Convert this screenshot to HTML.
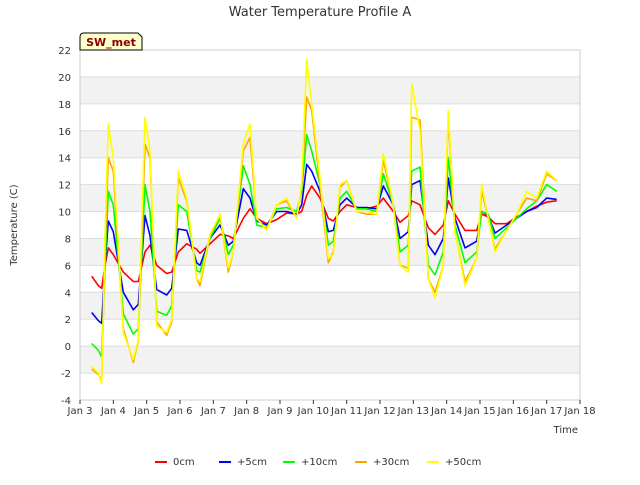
<!DOCTYPE html>
<html><head><meta charset="utf-8"><style>
body{margin:0;background:#fff;font-family:"Liberation Sans","DejaVu Sans",sans-serif}
</style></head><body>
<svg id="chart" width="640" height="480" style="font-family:'DejaVu Sans','Liberation Sans',sans-serif">
<text x="320" y="16" text-anchor="middle" font-size="13" fill="#333">Water Temperature Profile A</text>
<g id="bands"></g><g id="grid"></g>
<rect x="80" y="50" width="500" height="350" fill="none" stroke="#ccc"/>
<g id="series"></g><g id="axes"></g>
<text x="17" y="225" transform="rotate(-90 17 225)" text-anchor="middle" font-size="10" fill="#333">Temperature (C)</text>
<text x="578" y="433" text-anchor="end" font-size="10" fill="#333">Time</text>
<g><path d="M80,50 L80,37 Q80,33 84,33 L138,33 L142,37 L142,50 Z" fill="#ffffcc" stroke="#000"/><text x="111" y="46" text-anchor="middle" font-size="11" font-weight="bold" fill="#8b0000">SW_met</text></g>
<g id="legend"></g>
</svg>
<script>
const times=[3.35,3.55,3.65,3.75,3.85,4.0,4.3,4.6,4.75,4.95,5.1,5.3,5.6,5.75,5.95,6.2,6.5,6.6,6.9,7.2,7.45,7.6,7.9,8.1,8.3,8.6,8.9,9.2,9.5,9.65,9.8,9.95,10.2,10.45,10.6,10.8,11.0,11.3,11.6,11.9,12.1,12.4,12.6,12.85,12.95,13.2,13.45,13.65,13.9,14.05,14.25,14.55,14.9,15.05,15.25,15.45,15.8,16.1,16.4,16.7,17.0,17.3];
const s0cm=[5.2,4.5,4.3,6.0,7.3,6.8,5.5,4.8,4.8,7.0,7.5,6.0,5.4,5.5,7.0,7.6,7.2,6.9,7.6,8.3,8.2,8.0,9.5,10.2,9.5,9.1,9.4,9.9,9.8,10.0,11.2,11.9,11.0,9.5,9.3,10.0,10.5,10.3,10.2,10.4,11.0,10.0,9.2,9.7,10.8,10.5,8.8,8.3,9.0,10.8,9.8,8.6,8.6,9.8,9.6,9.1,9.1,9.6,10.0,10.4,10.7,10.8];
const s5cm=[2.5,1.9,1.7,6,9.3,8.5,4,2.7,3.1,9.7,8.2,4.2,3.8,4.3,8.7,8.6,6.2,6.0,8.0,9.0,7.5,7.8,11.7,11.0,9.3,9.0,10.0,10.0,9.8,10.5,13.5,13.0,11.5,8.5,8.6,10.5,11.0,10.3,10.3,10.2,11.9,10.5,8.0,8.5,12.0,12.3,7.5,6.8,8.0,12.5,9.5,7.3,7.8,10,9.7,8.4,9.0,9.5,10.0,10.3,11.0,10.9];
const s10cm=[0.2,-0.3,-0.8,6,11.5,10.5,2.4,0.9,1.3,12,10.0,2.6,2.3,3.0,10.5,10.0,5.6,5.5,8.0,9.5,6.8,7.5,13.4,12,9,8.8,10.2,10.3,10.0,11.5,15.7,14.5,12,7.5,7.8,11,11.5,10.2,10.2,10.0,12.8,10.5,7,7.5,13,13.3,6,5.3,7,14,9,6.2,7.0,10,9.8,8.0,8.8,9.5,10.2,10.8,12.0,11.5];
const s30cm=[-1.7,-2.1,-2.5,7,14,13,1.3,-1.2,0.4,15,14,1.8,0.8,1.8,12.5,10.8,5,4.5,8.2,9.8,5.5,7,14.5,15.5,9.5,8.7,10.5,10.8,9.5,11.8,18.5,17.5,12,6.2,7,11.8,12.3,10,9.8,9.8,13.8,10.5,6,5.8,17,16.8,5,4,6,17,8.5,4.8,6.5,11.5,9.5,7.2,8.6,9.8,11,10.8,12.8,12.3];
const s50cm=[-1.5,-2,-2.8,8,16.5,14,1,-1,0.5,17,14.5,1.5,1.0,2,13,11,5,4.8,8.3,9.8,5.8,7,15,16.5,9.5,8.6,10.5,11,9.5,12,21.3,18,12.5,6.5,6.8,12,12.3,10,10.0,9.8,14.3,10.5,6,5.5,19.5,16,5,3.6,6,17.5,8.5,4.5,6.5,12,9.5,7,8.6,9.8,11.5,11,13,12.3];
const seriesNames=["0cm","+5cm","+10cm","+30cm","+50cm"];
const seriesColors=["#ff0000","#0000ff","#00ff00","#ffa500","#ffff00"];
const seriesData=[s0cm,s5cm,s10cm,s30cm,s50cm];
const yTicks=[-4,-2,0,2,4,6,8,10,12,14,16,18,20,22];
const xTicks=[3,4,5,6,7,8,9,10,11,12,13,14,15,16,17,18];
const NS="http://www.w3.org/2000/svg";
const X=d=>80+(d-3)*500/15, Y=v=>400-(v+4)*350/26;
function mk(tag,attrs,parent){const e=document.createElementNS(NS,tag);for(const k in attrs)e.setAttribute(k,attrs[k]);parent.appendChild(e);return e;}
const bands=document.getElementById('bands'),grid=document.getElementById('grid'),axes=document.getElementById('axes');
for(let i=0;i<yTicks.length-1;i++){const v=yTicks[i];if(((v+2)/2)%2===0&&v>=-2){const r=mk('rect',{x:80,y:Y(v+2),width:500,height:Y(v)-Y(v+2),fill:'#f2f2f2'},bands);

}}
yTicks.forEach(v=>{const l=mk('line',{x1:80,x2:580,y1:Y(v),y2:Y(v),stroke:'#ddd'},grid);


const t=mk('text',{x:71,y:Y(v)+4,'text-anchor':'end','font-size':10,fill:'#333'},axes);t.textContent=v;

});
xTicks.forEach(d=>{mk('line',{x1:X(d),x2:X(d),y1:400,y2:404,stroke:'#333'},axes);
const t=mk('text',{x:X(d),y:414,'text-anchor':'middle','font-size':10,fill:'#333'},axes);t.textContent='Jan '+d;

});
const sg=document.getElementById('series');
seriesData.forEach((arr,i)=>{const p=mk('polyline',{points:arr.map((v,j)=>X(times[j]).toFixed(1)+','+Y(v).toFixed(1)).join(' '),fill:'none',stroke:seriesColors[i],'stroke-width':1.6,'stroke-linejoin':'round'},sg);

});
const lg=document.getElementById('legend');const lx=[155,219,283,355,427];
seriesNames.forEach((n,i)=>{const g=mk('g',{},lg);


mk('line',{x1:lx[i],x2:lx[i]+12,y1:462,y2:462,stroke:seriesColors[i],'stroke-width':2},g);
const t=mk('text',{x:lx[i]+18,y:465,'font-size':10,fill:'#333'},g);t.textContent=n;});
</script>
</body></html>
